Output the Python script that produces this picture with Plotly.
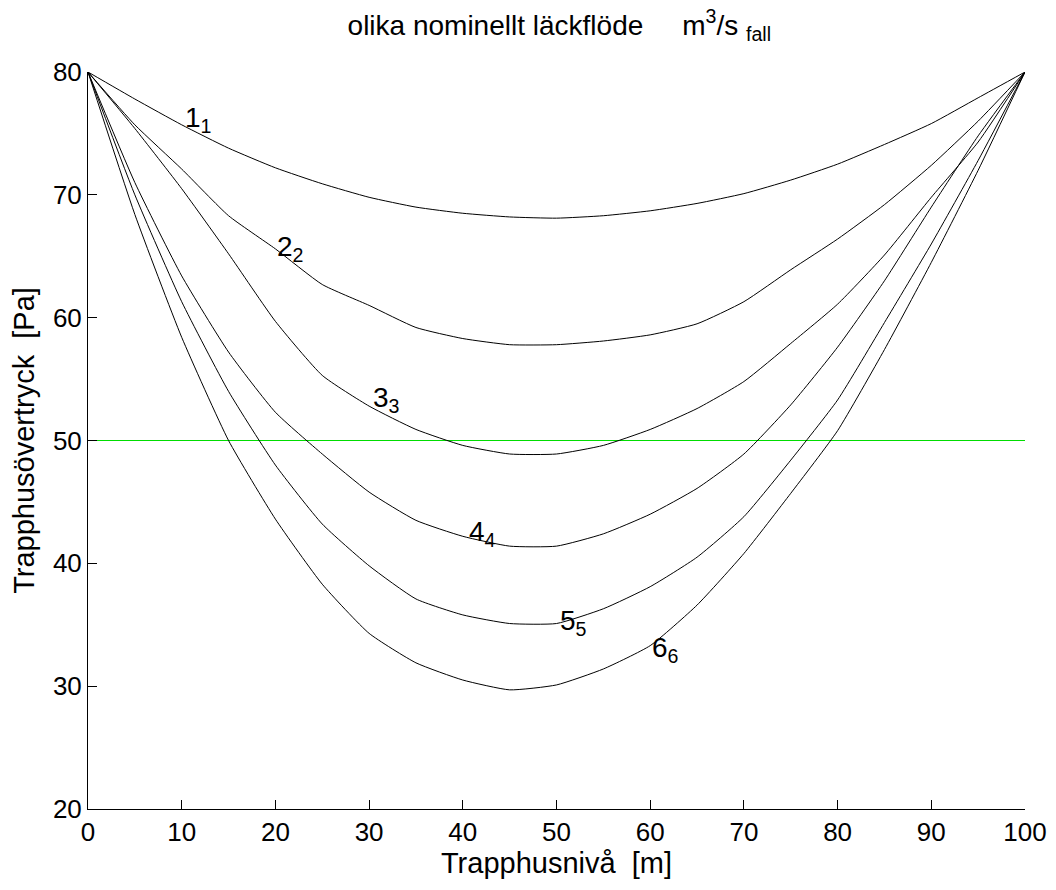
import plotly.graph_objects as go

# Trapphusnivå [m]
level = [0, 5, 10, 15, 20, 25, 30, 35, 40, 45, 50, 55, 60, 65, 70, 75, 80, 85, 90, 95, 100]

# Trapphusövertryck [Pa] for the six cases
case1 = [80, 77.8, 75.7, 73.8, 72.2, 70.9, 69.8, 69.0, 68.5, 68.2, 68.1, 68.3, 68.7, 69.3, 70.1, 71.2, 72.5, 74.1, 75.8, 77.9, 80]
case2 = [80, 75.7, 72.1, 68.3, 65.6, 62.7, 61.0, 59.2, 58.3, 57.8, 57.8, 58.1, 58.6, 59.5, 61.3, 63.9, 66.4, 69.2, 72.4, 76.0, 80]
case3 = [80, 75.4, 70.5, 65.2, 59.7, 55.3, 52.8, 50.9, 49.6, 48.9, 48.9, 49.6, 50.9, 52.6, 54.8, 57.9, 61.1, 65.1, 69.8, 74.3, 80]
case4 = [80, 71.0, 63.4, 57.2, 52.3, 48.9, 45.8, 43.5, 42.2, 41.4, 41.4, 42.4, 44.0, 46.1, 48.9, 52.9, 57.6, 63.0, 69.0, 74.8, 80]
case5 = [80, 70.0, 61.3, 54.0, 48.0, 43.2, 39.8, 37.1, 35.8, 35.1, 35.1, 36.3, 38.1, 40.5, 43.8, 48.4, 53.3, 59.6, 66.0, 72.8, 80]
case6 = [80, 68.4, 58.4, 50.0, 43.6, 38.3, 34.3, 31.9, 30.5, 29.7, 30.1, 31.4, 33.3, 36.6, 40.8, 45.7, 50.8, 57.4, 64.5, 72.0, 80]

cases = [case1, case2, case3, case4, case5, case6]
case_names = ["1", "2", "3", "4", "5", "6"]

# reference pressure level
ref_level = 50

# curve label anchor positions (data coords)
label_x = [10.1, 20.0, 30.25, 40.45, 50.2, 60.0]
label_y = [76.1, 65.6, 53.3, 42.4, 35.2, 33.0]

x_ticks = [0, 10, 20, 30, 40, 50, 60, 70, 80, 90, 100]
y_ticks = [20, 30, 40, 50, 60, 70, 80]

FONT = "Liberation Sans, Arial, Helvetica, sans-serif"

fig = go.Figure()

fig.add_trace(go.Scatter(
    x=[level[0], level[-1]], y=[ref_level, ref_level],
    mode="lines", line=dict(color="#00dd00", width=1),
    showlegend=False, hoverinfo="skip"))

for name, vals in zip(case_names, cases):
    fig.add_trace(go.Scatter(
        x=level, y=vals, mode="lines", name=name,
        line=dict(color="black", width=1, shape="spline", smoothing=0.5),
        showlegend=False))

for name, lx, ly in zip(case_names, label_x, label_y):
    fig.add_annotation(
        x=lx, y=ly, xref="x", yref="y",
        text=f"{name}<sub>{name}</sub>", showarrow=False,
        xanchor="left", yanchor="middle",
        font=dict(family=FONT, size=28, color="black"))

# the page body adds an 8 px offset; margins compensate for it
fig.update_layout(
    width=1056, height=890,
    margin=dict(l=80, r=39, t=64, b=89),
    paper_bgcolor="white", plot_bgcolor="white",
    font=dict(family=FONT, size=26, color="black"),
    title=dict(
        text="olika nominellt läckflöde\u00a0\u00a0\u00a0\u00a0 m<sup>3</sup>/s <sub>fall</sub>",
        x=0.503, xref="paper", xanchor="center",
        y=0.992, yref="container", yanchor="top",
        font=dict(family=FONT, size=28, color="black")),
    xaxis=dict(
        range=[0, 100], tickvals=x_ticks, ticks="inside", ticklen=9,
        tickcolor="black", showline=True, linecolor="black", linewidth=1,
        showgrid=False, zeroline=False, mirror=False, automargin=False,
        title=dict(text="Trapphusnivå\u00a0\u00a0[m]", standoff=4,
                   font=dict(family=FONT, size=29)),
        tickfont=dict(family=FONT, size=26)),
    yaxis=dict(
        range=[20, 80], tickvals=y_ticks, ticks="inside", ticklen=9,
        tickcolor="black", showline=True, linecolor="black", linewidth=1,
        showgrid=False, zeroline=False, mirror=False, automargin=False,
        title=dict(text="Trapphusövertryck\u00a0\u00a0[Pa]", standoff=10,
                   font=dict(family=FONT, size=29)),
        tickfont=dict(family=FONT, size=26)),
)

fig.write_html("out.html")
